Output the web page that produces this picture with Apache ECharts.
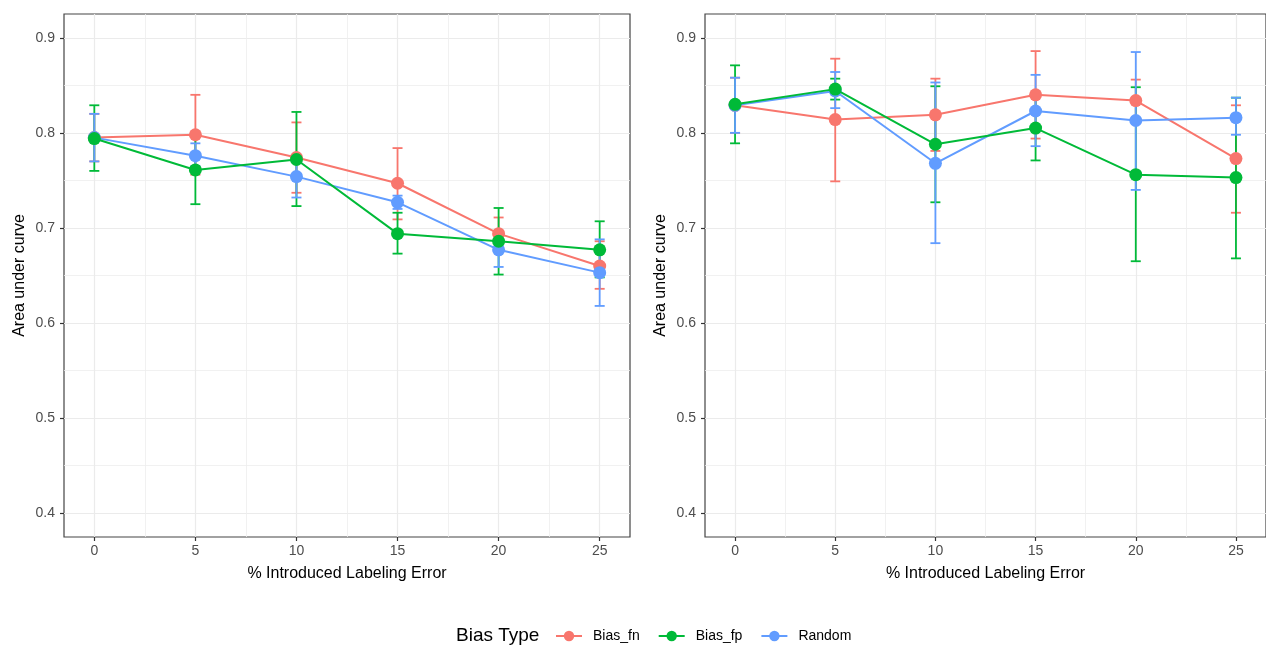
<!DOCTYPE html>
<html>
<head>
<meta charset="utf-8">
<script src="https://cdn.jsdelivr.net/npm/echarts@6/dist/echarts.min.js"></script>
<style>
  html, body { margin: 0; padding: 0; background: #fff; }
  #chart { width: 1266px; height: 645px; }
</style>
</head>
<body>
<div id="chart"></div>
<script>
// x positions (% introduced labeling error)
var errPct = [0, 5, 10, 15, 20, 25];
var xTicks = [0, 5, 10, 15, 20, 25];
var xMinor = [2.5, 7.5, 12.5, 17.5, 22.5];
var yTicks = [0.4, 0.5, 0.6, 0.7, 0.8, 0.9];
var yMinor = [0.45, 0.55, 0.65, 0.75, 0.85];
var typeNames = ['Bias_fn', 'Bias_fp', 'Random'];

// left panel
var fnLeft = [0.795, 0.798, 0.774, 0.747, 0.694, 0.660];
var fnLeftLo = [0.770, 0.756, 0.737, 0.709, 0.678, 0.636];
var fnLeftHi = [0.820, 0.840, 0.811, 0.784, 0.711, 0.686];
var fpLeft = [0.794, 0.761, 0.772, 0.694, 0.686, 0.677];
var fpLeftLo = [0.760, 0.725, 0.723, 0.673, 0.651, 0.648];
var fpLeftHi = [0.829, 0.797, 0.822, 0.716, 0.721, 0.707];
var rdLeft = [0.795, 0.776, 0.754, 0.727, 0.677, 0.653];
var rdLeftLo = [0.770, 0.765, 0.732, 0.720, 0.659, 0.618];
var rdLeftHi = [0.820, 0.789, 0.776, 0.734, 0.695, 0.688];

// right panel
var fnRight = [0.829, 0.814, 0.819, 0.840, 0.834, 0.773];
var fnRightLo = [0.800, 0.749, 0.781, 0.794, 0.812, 0.716];
var fnRightHi = [0.858, 0.878, 0.857, 0.886, 0.856, 0.829];
var fpRight = [0.830, 0.846, 0.788, 0.805, 0.756, 0.753];
var fpRightLo = [0.789, 0.835, 0.727, 0.771, 0.665, 0.668];
var fpRightHi = [0.871, 0.857, 0.849, 0.839, 0.848, 0.837];
var rdRight = [0.829, 0.844, 0.768, 0.823, 0.813, 0.816];
var rdRightLo = [0.800, 0.826, 0.684, 0.786, 0.740, 0.798];
var rdRightHi = [0.858, 0.864, 0.853, 0.861, 0.885, 0.837];

var colors = ['#F8766D', '#00BA38', '#619CFF'];
var zOrder = [3, 5, 4]; // green drawn on top, then blue, then red
var font = 'Liberation Sans';

var panels = [
  { mean: [fnLeft, fpLeft, rdLeft], lo: [fnLeftLo, fpLeftLo, rdLeftLo], hi: [fnLeftHi, fpLeftHi, rdLeftHi] },
  { mean: [fnRight, fpRight, rdRight], lo: [fnRightLo, fpRightLo, rdRightLo], hi: [fnRightHi, fpRightHi, rdRightHi] }
];

function renderErr(params, api) {
  var x = api.value(0);
  var lo = api.coord([x, api.value(1)]);
  var hi = api.coord([x, api.value(2)]);
  var half = 5;
  var st = { stroke: api.visual('color'), lineWidth: 1.8 };
  return {
    type: 'group',
    children: [
      { type: 'line', shape: { x1: lo[0], y1: lo[1], x2: hi[0], y2: hi[1] }, style: st },
      { type: 'line', shape: { x1: lo[0] - half, y1: lo[1], x2: lo[0] + half, y2: lo[1] }, style: st },
      { type: 'line', shape: { x1: hi[0] - half, y1: hi[1], x2: hi[0] + half, y2: hi[1] }, style: st }
    ]
  };
}

function mainX(g) {
  return {
    type: 'value', gridIndex: g, min: -1.5, max: 26.5, position: 'bottom',
    name: '% Introduced Labeling Error', nameLocation: 'middle', nameGap: 29,
    nameTextStyle: { fontFamily: font, fontSize: 16, color: '#000' },
    axisLine: { show: false, onZero: false },
    axisTick: { show: true, length: 4, customValues: xTicks, lineStyle: { color: '#333', width: 1.2 } },
    axisLabel: { customValues: xTicks, fontFamily: font, fontSize: 14, color: '#4D4D4D', margin: 7 },
    splitLine: { show: true, lineStyle: { color: '#EBEBEB', width: 1.2 } }
  };
}
function minorX(g) {
  return {
    type: 'value', gridIndex: g, min: -1.5, max: 26.5, position: 'top',
    axisLine: { show: false, onZero: false }, axisLabel: { show: false },
    axisTick: { show: false, customValues: xMinor },
    splitLine: { show: true, lineStyle: { color: '#EEEEEE', width: 0.8 } }
  };
}
function mainY(g) {
  return {
    type: 'value', gridIndex: g, min: 0.375, max: 0.925, position: 'left',
    name: 'Area under curve', nameLocation: 'middle', nameGap: 36, nameRotate: 90,
    nameTextStyle: { fontFamily: font, fontSize: 16, color: '#000' },
    axisLine: { show: false, onZero: false },
    axisTick: { show: true, length: 4, customValues: yTicks, lineStyle: { color: '#333', width: 1.2 } },
    axisLabel: { customValues: yTicks, fontFamily: font, fontSize: 14, color: '#4D4D4D', margin: 9,
      formatter: function (v) { return v.toFixed(1); } },
    splitLine: { show: true, lineStyle: { color: '#EBEBEB', width: 1.2 } }
  };
}
function minorY(g) {
  return {
    type: 'value', gridIndex: g, min: 0.375, max: 0.925, position: 'right',
    axisLine: { show: false, onZero: false }, axisLabel: { show: false },
    axisTick: { show: false, customValues: yMinor },
    splitLine: { show: true, lineStyle: { color: '#EEEEEE', width: 0.8 } }
  };
}

var series = [];
panels.forEach(function (p, g) {
  typeNames.forEach(function (name, k) {
    series.push({
      name: name + '_err' + g,
      type: 'custom',
      xAxisIndex: g, yAxisIndex: g,
      itemStyle: { color: colors[k] },
      renderItem: renderErr,
      encode: { x: 0, y: [1, 2] },
      data: errPct.map(function (x, i) { return [x, p.lo[k][i], p.hi[k][i]]; }),
      z: 2,
      silent: true
    });
  });
  typeNames.forEach(function (name, k) {
    series.push({
      name: name,
      type: 'line',
      xAxisIndex: g, yAxisIndex: g,
      symbol: 'circle', symbolSize: 13, showSymbol: true,
      itemStyle: { color: colors[k] },
      lineStyle: { color: colors[k], width: 2 },
      data: errPct.map(function (x, i) { return [x, p.mean[k][i]]; }),
      z: zOrder[k],
      animation: false
    });
  });
});

var myChart = echarts.init(document.getElementById('chart'));
myChart.setOption({
  animation: false,
  grid: [
    { left: 64, right: 636, top: 14, bottom: 108, show: true, borderColor: '#444', borderWidth: 1.2, backgroundColor: '#fff' },
    { left: 705, right: -4, top: 14, bottom: 108, show: true, borderColor: '#444', borderWidth: 1.2, backgroundColor: '#fff' }
  ],
  xAxis: [mainX(0), mainX(1), minorX(0), minorX(1)],
  yAxis: [mainY(0), mainY(1), minorY(0), minorY(1)],
  legend: {
    data: typeNames,
    left: 555, top: 629, padding: 0,
    itemWidth: 26, itemHeight: 13, itemGap: 18,
    textStyle: { fontFamily: font, fontSize: 14, color: '#000', padding: [0, 0, 0, 6] }
  },
  graphic: [{
    type: 'text', left: 456, top: 626,
    style: { text: 'Bias Type', font: '19px "Liberation Sans"', fill: '#000' }
  }],
  series: series
});

window.addEventListener('resize', function () {
  myChart.resize();
});
</script>
</body>
</html>
